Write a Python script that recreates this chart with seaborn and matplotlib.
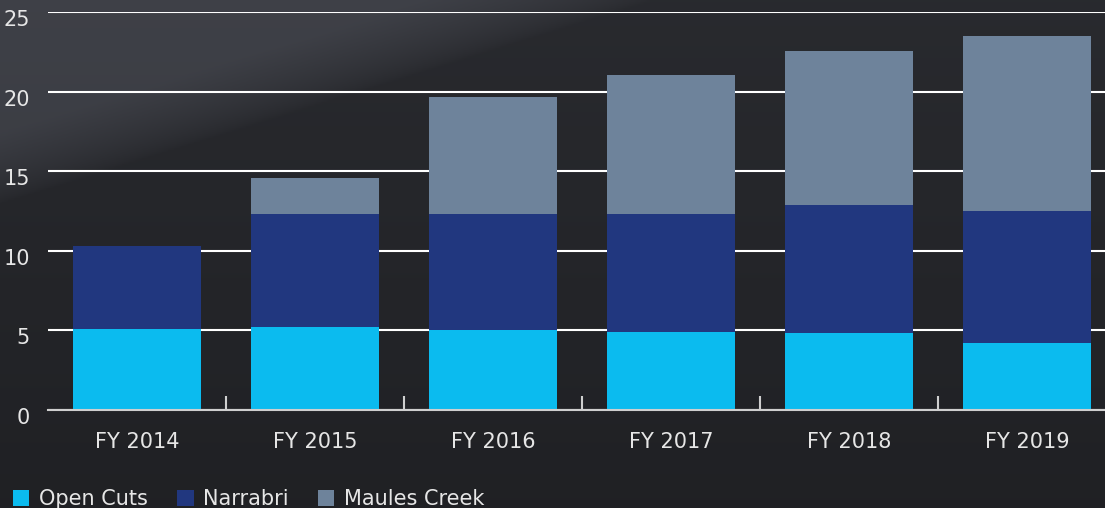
import numpy as np
import pandas as pd
import matplotlib
matplotlib.use("Agg")
import matplotlib.pyplot as plt
import matplotlib.transforms as mtransforms
from matplotlib.patches import Patch
import seaborn as sns

years = ["FY 2014", "FY 2015", "FY 2016", "FY 2017", "FY 2018", "FY 2019"]
open_cuts = [5.1, 5.2, 5.0, 4.9, 4.85, 4.2]
narrabri = [5.2, 7.1, 7.3, 7.4, 8.05, 8.3]
maules_creek = [0.0, 2.3, 7.35, 8.75, 9.65, 11.0]

series_names = ["Open Cuts", "Narrabri", "Maules Creek"]
series_colors = ["#0bbbef", "#21377f", "#6e839b"]
y_ticks = [0, 5, 10, 15, 20, 25]

df = pd.DataFrame({"year": years, "open": open_cuts, "narrabri": narrabri, "maules": maules_creek})
df["lvl2"] = df["open"] + df["narrabri"]
df["lvl3"] = df["lvl2"] + df["maules"]

sns.set_style("white")
plt.rcParams["font.family"] = ["DejaVu Sans"]
text_col = "#e6e6e6"
fs = 15

fig = plt.figure(figsize=(11.05, 5.08), dpi=100)

# dark photo-like backdrop: lighter sky in the upper left, dark hill below
bg = fig.add_axes([0, 0, 1, 1], zorder=0)
yy, xx = np.mgrid[0:1:254j, 0:1:553j]
edge = 0.40 - 0.68 * xx - yy
sky = np.clip(edge / 0.14, 0, 1) ** 0.7
light = 0.125 + 0.035 * (1 - yy) + 0.085 * sky
img = np.dstack([light * 1.0, light * 1.03, light * 1.14])
img = np.clip(img, 0, 1)
bg.imshow(img, aspect="auto", extent=[0, 1, 0, 1], origin="upper")
bg.set_axis_off()

ax = fig.add_axes([0.0434, 0.1929, 0.9665, 0.7835], zorder=1)
ax.set_facecolor("none")
ax.set_axisbelow(True)

# stacked bars drawn as overlapping cumulative totals
bar_kw = dict(width=0.72, saturation=1, linewidth=0, edgecolor="none", ax=ax)
sns.barplot(data=df, x="year", y="lvl3", color=series_colors[2], **bar_kw)
sns.barplot(data=df, x="year", y="lvl2", color=series_colors[1], **bar_kw)
sns.barplot(data=df, x="year", y="open", color=series_colors[0], **bar_kw)

ax.set_xlim(-0.5, len(years) - 0.5)
ax.set_ylim(0, 25)
ax.set_yticks(y_ticks)
ax.set_xlabel("")
ax.set_ylabel("")
ax.yaxis.grid(True, color="white", lw=1.5)

for s in ["top", "right", "left"]:
    ax.spines[s].set_visible(False)
ax.spines["bottom"].set_color("#cfcfcf")
ax.spines["bottom"].set_linewidth(1.5)

ax.tick_params(axis="y", length=0, pad=13, labelsize=fs, labelcolor=text_col)
ax.tick_params(axis="x", which="major", length=0, pad=16, labelsize=fs, labelcolor=text_col)
ax.set_xticks(np.arange(0.5, len(years) - 1, 1), minor=True)
ax.tick_params(axis="x", which="minor", bottom=True, direction="in", length=10,
               width=1.5, color="#cfcfcf")

offset = mtransforms.ScaledTranslation(0, -6 / 100, fig.dpi_scale_trans)
for lab in ax.get_yticklabels():
    lab.set_transform(lab.get_transform() + offset)

handles = [Patch(facecolor=c, edgecolor="none") for c in series_colors]
fig.legend(handles, series_names, loc="lower left", bbox_to_anchor=(0.004, -0.018),
           ncol=3, frameon=False, fontsize=fs, labelcolor=text_col,
           handlelength=0.8, handleheight=0.8, handletextpad=0.45,
           columnspacing=1.4, borderaxespad=0)

fig.savefig("out.png", dpi=100)
